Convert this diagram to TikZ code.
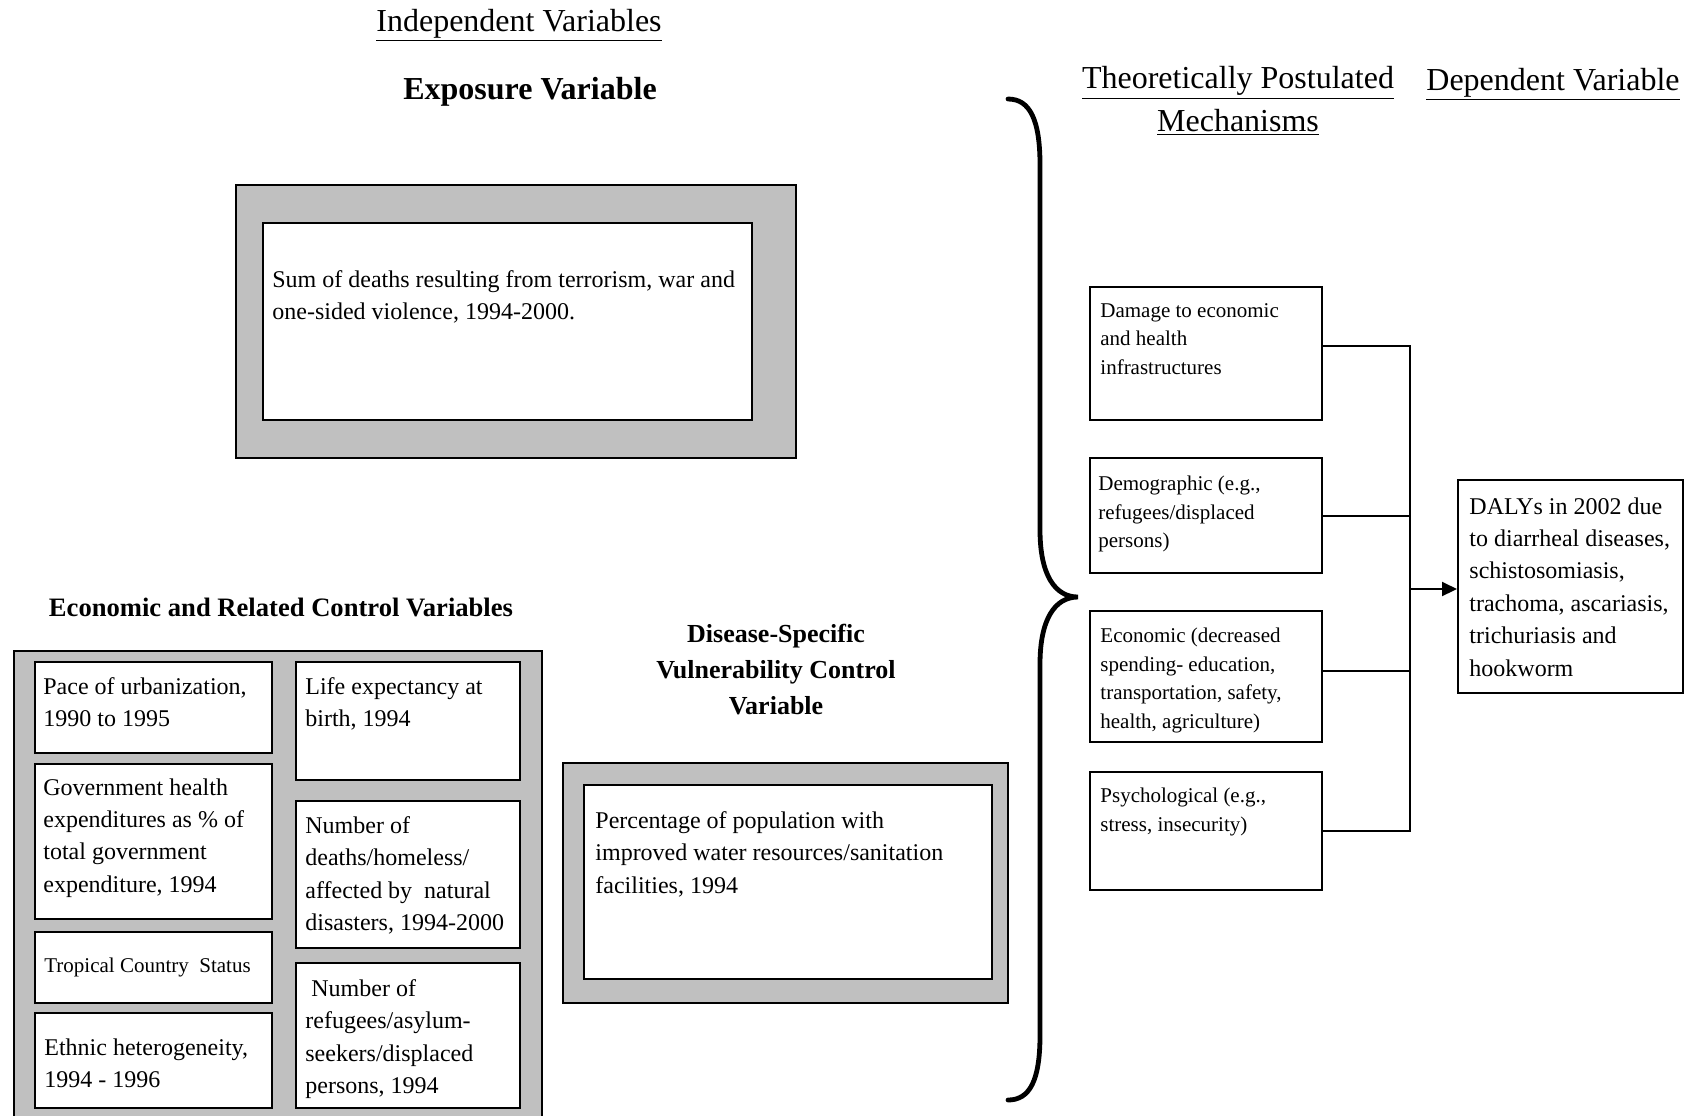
\documentclass[tikz,border=0pt]{standalone}
\usepackage{fontspec}
\setmainfont{Liberation Serif}
\usetikzlibrary{arrows.meta}
\definecolor{panelgray}{RGB}{192,192,192}
\tikzset{
  panel/.style={draw, fill=panelgray, line width=1pt, anchor=north west, inner sep=0pt},
  card/.style={draw, fill=white, line width=1pt, anchor=north west, inner sep=0pt},
  txt/.style={anchor=north west, align=left, inner sep=0pt, font=\fontsize{12}{16.2}\selectfont},
  smalltxt/.style={anchor=north west, align=left, inner sep=0pt, font=\fontsize{10.5}{14.25}\selectfont},
  head/.style={inner sep=0pt, align=center, font=\fontsize{16}{21.5}\selectfont},
  bighead/.style={inner sep=0pt, align=center, font=\fontsize{16}{21.5}\selectfont\bfseries},
  subhead/.style={inner sep=0pt, align=center, font=\fontsize{13}{18}\selectfont\bfseries},
  link/.style={line width=1pt},
}
\begin{document}
\begin{tikzpicture}[x=0.5pt, y=-0.5pt]
\clip (0,0) rectangle (1695,1115);
% headings
\node[head, anchor=base] (indep) at (519,31) {\underline{Independent Variables}};
\node[bighead, anchor=base] (expohead) at (530,99) {Exposure Variable};
\node[head, anchor=north] (mechhead) at (1238,66) {\underline{Theoretically Postulated}\\\underline{Mechanisms}};
\node[head, anchor=base] (dephead) at (1553,90) {\underline{Dependent Variable}};
\node[subhead, anchor=base, font=\fontsize{13.3}{18}\selectfont\bfseries] (econhead) at (281,616) {Economic and Related Control Variables};
\node[subhead, anchor=north] (dishead) at (776,624) {Disease-Specific\\Vulnerability Control\\Variable};

% exposure variable
\node[panel, minimum width=280pt, minimum height=136.5pt] (expoout) at (235,184) {};
\node[card, minimum width=244.5pt, minimum height=98.5pt] (expoin) at (262,222) {};
\node[txt] (expotxt) at (272,270) {Sum of deaths resulting from terrorism, war and\\one-sided violence, 1994-2000.};

% economic and related controls
\node[panel, minimum width=264pt, minimum height=240pt] (econout) at (13,650) {};
\node[card, minimum width=118.5pt, minimum height=45.5pt] (pace) at (34,661) {};
\node[card, minimum width=118.5pt, minimum height=77.5pt] (gov) at (34,763) {};
\node[card, minimum width=118.5pt, minimum height=35.5pt] (trop) at (34,931) {};
\node[card, minimum width=118.5pt, minimum height=47.5pt] (eth) at (34,1012) {};
\node[card, minimum width=112pt, minimum height=59pt] (life) at (295,661) {};
\node[card, minimum width=112pt, minimum height=73.5pt] (nat) at (295,800) {};
\node[card, minimum width=112pt, minimum height=72.5pt] (ref) at (295,962) {};
\node[txt] (pacetxt) at (43,677) {Pace of urbanization,\\1990 to 1995};
\node[txt] (govtxt) at (43,778) {Government health\\expenditures as \% of\\total government\\expenditure, 1994};
\node[smalltxt] (troptxt) at (44,958) {Tropical Country\ \ Status};
\node[txt] (ethtxt) at (44,1038) {Ethnic heterogeneity,\\1994 - 1996};
\node[txt] (lifetxt) at (305,677) {Life expectancy at\\birth, 1994};
\node[txt] (nattxt) at (305,816) {Number of\\deaths/homeless/\\affected by\ \ natural\\disasters, 1994-2000};
\node[txt] (reftxt) at (305,979) {\ Number of\\refugees/asylum-\\seekers/displaced\\persons, 1994};

% disease-specific control
\node[panel, minimum width=222.5pt, minimum height=120pt] (disout) at (562,762) {};
\node[card, minimum width=204pt, minimum height=97pt] (disin) at (583,784) {};
\node[txt] (distxt) at (595,811) {Percentage of population with\\improved water resources/sanitation\\facilities, 1994};

% brace
\draw[line width=2.4pt, line cap=round]
  (1008,99) .. controls (1030,99) and (1040,120) .. (1040,165) -- (1040,530)
  .. controls (1040,575) and (1055,597) .. (1078,597)
  .. controls (1055,597) and (1040,619) .. (1040,664) -- (1040,1035)
  .. controls (1040,1080) and (1030,1100) .. (1008,1100);

% mechanisms
\node[card, minimum width=116pt, minimum height=66.5pt] (dmg) at (1089,286) {};
\node[card, minimum width=116pt, minimum height=57.5pt] (dem) at (1089,457) {};
\node[card, minimum width=116pt, minimum height=65.5pt] (eco) at (1089,610) {};
\node[card, minimum width=116pt, minimum height=59pt] (psy) at (1089,771) {};
\node[smalltxt] (dmgtxt) at (1100,303) {Damage to economic\\and health\\infrastructures};
\node[smalltxt] (demtxt) at (1098,476) {Demographic (e.g.,\\refugees/displaced\\persons)};
\node[smalltxt] (ecotxt) at (1100,628) {Economic (decreased\\spending- education,\\transportation, safety,\\health, agriculture)};
\node[smalltxt] (psytxt) at (1100,788) {Psychological (e.g.,\\stress, insecurity)};

% dependent variable
\node[card, minimum width=112.5pt, minimum height=106.5pt] (daly) at (1457,479) {};
\node[txt] (dalytxt) at (1469,497) {DALYs in 2002 due\\to diarrheal diseases,\\schistosomiasis,\\trachoma, ascariasis,\\trichuriasis and\\hookworm};

% connectors
\coordinate (bus) at (1410,589);
\draw[link] ([yshift=4pt]dmg.east) -- ([yshift=4pt]dmg.east -| bus) -- (psy.east -| bus) -- (psy.east);
\draw[link] (dem.east) -- (dem.east -| bus);
\draw[link] ([yshift=2.75pt]eco.east) -- ([yshift=2.75pt]eco.east -| bus);
\draw[link, -{Triangle[length=7.5pt, width=7pt]}] (bus) -- (bus -| daly.west);
\end{tikzpicture}
\end{document}
